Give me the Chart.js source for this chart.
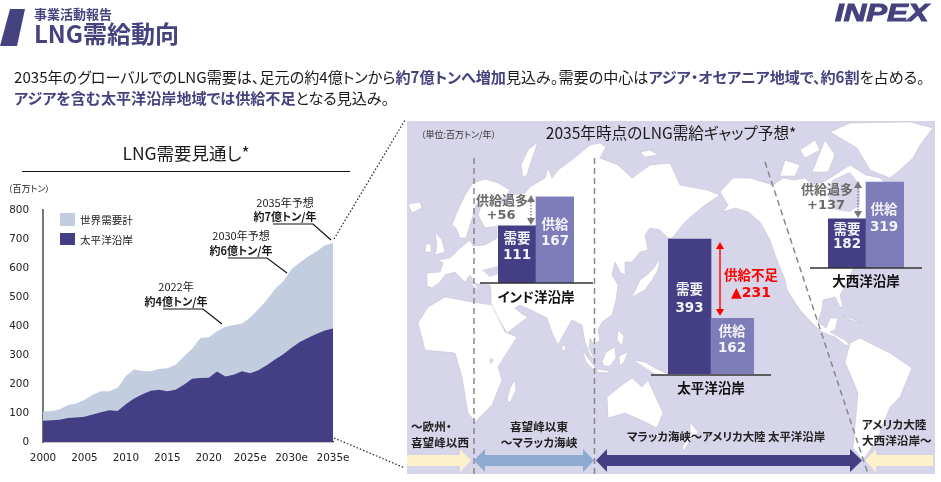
<!DOCTYPE html>
<html lang="ja"><head><meta charset="utf-8">
<script src="https://cdn.jsdelivr.net/npm/chart.js@4"></script>
<style>
html,body{margin:0;padding:0;background:#fff;width:941px;height:482px;overflow:hidden}
body{position:relative;font-family:"DejaVu Sans","Noto Sans CJK JP",sans-serif;color:#1a1a1a}
.t{position:absolute;white-space:nowrap;z-index:5;font-family:"Noto Sans CJK JP",sans-serif;font-feature-settings:"palt"}
.c{text-align:center;transform:translateX(-50%)}
.b{font-weight:700}
.n{font-family:"DejaVu Sans","Noto Sans CJK JP",sans-serif}
.hl{color:#46427f;font-weight:700}
canvas{position:absolute}
svg{position:absolute;left:0;top:0}
.w{color:#f2f2f8;font-weight:700;font-size:13.5px;line-height:15.5px}
.g{color:#6a6a6a;font-weight:700}
.lb{font-weight:700;font-size:13.5px;color:#111}
.ar{font-weight:700;font-size:11.6px;line-height:15.5px;color:#222}
</style></head><body>
<svg width="941" height="482" style="z-index:0">
<polygon points="10,9 25,9 17,46 0,46" fill="#46427f"/>
<rect x="407" y="121" width="528" height="353" fill="#d6d5e9"/>
<g fill="#fff" stroke="#bcbcd0" stroke-width=".5" stroke-linejoin="round">
<polygon points="427,286 427,273 440,272 443,263 438,260 450,258 458,250 464,245 470,240 473,246 485,245 497,238 497,226 485,228 478,215 483,200 476,205 470,225 466,238 460,238 456,228 452,225 457,212 465,195 473,183 485,179 498,183 510,190 505,197 497,200 505,205 513,195 525,193 530,187 545,178 548,168 552,178 558,170 565,165 578,155 590,145 600,143 606,147 600,158 618,165 632,178 650,165 670,163 680,185 707,190 720,195 705,205 693,215 685,222 677,232 672,238 668,238 660,230 650,228 645,235 648,250 640,252 632,262 625,262 625,275 620,272 615,262 612,275 618,285 616,300 612,315 602,322 598,330 600,340 594,345 590,338 589,348 596,362 590,355 585,342 582,325 572,320 565,332 558,345 553,335 547,318 535,312 520,305 515,308 522,314 528,317 507,333 498,318 491,304 491,294 490,285 470,283 480,292 476,285 470,275 465,282 455,272 445,275 440,282 432,288"/>
<polygon points="418,323 428,307 445,297 472,302 492,305 505,332 517,337 498,367 502,380 492,405 475,422 468,413 462,377 455,353 425,350"/>
<polygon points="515,380 516,390 510,403 507,400 510,388"/>
<polygon points="435,232 442,240 445,252 435,255 437,245"/>
<polygon points="426,244 431,244 431,252 425,252"/>
<polygon points="408,204 420,202 422,208 412,213"/>
<polygon points="523,177 521,165 528,150 538,142 535,150 530,165 527,175"/>
<polygon points="640,152 650,150 658,155 645,157"/>
<polygon points="660,258 654,268 648,274 640,280 632,297 645,290 652,280 658,270"/>
<polygon points="618,330 624,336 622,346 617,340"/>
<polygon points="582,350 595,367 595,371 586,362"/>
<polygon points="602,362 606,352 615,347 616,358 610,366 604,366"/>
<polygon points="597,369 610,371 607,373 597,372"/>
<polygon points="619,356 628,352 624,362 620,366"/>
<polygon points="633,360 645,362 655,368 668,374 668,376 655,374 645,368"/>
<polygon points="607,397 622,385 632,378 642,387 648,380 663,413 657,428 645,422 625,413 608,418"/>
<polygon points="655,433 660,433 658,438"/>
<polygon points="690,422 698,432 694,438 690,440 684,451 682,447 690,436"/>
<polygon points="720,192 733,178 750,178 773,185 783,178 795,180 805,178 812,185 823,182 830,178 850,165 866,175 880,178 893,190 900,205 895,215 885,218 880,225 870,235 860,250 855,265 848,280 840,295 843,307 840,307 835,297 823,300 822,310 818,322 826,328 830,318 838,318 835,330 830,332 845,340 850,345 845,345 835,337 822,332 812,323 800,310 787,290 785,280 775,255 770,240 760,222 748,212 735,208 723,212 728,205"/>
<polygon points="857,148 830,132 850,123 910,122 933,128 920,145 913,158 900,170 890,178 870,170"/>
<polygon points="780,176 785,160 800,165 795,176"/>
<polygon points="800,150 815,140 820,150 805,158"/>
<polygon points="812,172 825,140 835,155 828,172"/>
<polygon points="843,316 855,320 862,323 850,320"/>
<polygon points="845,362 850,343 860,338 890,353 912,368 900,397 890,407 877,440 863,460 853,448 858,393"/>
<polygon points="562,345 566,346 565,351 562,350"/>
</g>
<g fill="#d6d5e9">
<polygon points="832,180 850,172 860,185 860,205 850,212 835,210 828,195"/>
<polygon points="482,270 498,266 503,272 490,277"/>
<polygon points="491,358 494,360 491,364 489,361"/>
</g>
<g fill="none" stroke="#888" stroke-width="1.5" stroke-dasharray="6 4">
<path d="M474 158V474"/><path d="M594.5 158V474"/><path d="M765 162L868 474"/>
</g>
<polygon points="407,455 460,455 460,449 471,460.500 460,472 460,466 407,466" fill="#fdf1cc"/>
<polygon points="474,460.500 485,449 485,455 583,455 583,449 594,460.500 583,472 583,466 485,466 485,472" fill="#8eaad0"/>
<polygon points="596,460.500 607,449 607,455 850,455 850,449 862,460.500 850,472 850,466 607,466 607,472" fill="#443f84"/>
<polygon points="865,460.500 876,449 876,455 933,455 933,466 876,466 876,472" fill="#fdf1cc"/>
</svg>

<canvas id="area" width="360" height="272" style="left:0;top:198px;z-index:1"></canvas>
<canvas id="barIndian" width="76" height="100" style="left:498px;top:183px;z-index:1"></canvas>
<canvas id="barPacific" width="86" height="145" style="left:668px;top:229px;z-index:1"></canvas>
<canvas id="barAtlantic" width="76" height="96" style="left:828px;top:172px;z-index:1"></canvas>

<svg width="941" height="482" style="z-index:2">
<path d="M22 171.500H350" stroke="#111" stroke-width="1.2"/>
<g fill="none" stroke="#111" stroke-width="1.2">
<path d="M163 309H203L222 324"/><path d="M228 258H267L287 273"/><path d="M273 224H313L331 240"/>
</g>
<path d="M334 239L405 120M334 438L405 468" stroke="#222" stroke-width="1.2" stroke-dasharray="1.500 2" fill="none"/>
<g stroke="#333" stroke-width="1.4"><path d="M480 283H593"/><path d="M651 375H771"/><path d="M810 268H922"/></g>
<path d="M531 199V221M858 185V214" stroke="#777" stroke-width="1.3" stroke-dasharray="1.500 1.500"/>
<g fill="#777">
<polygon points="531,195 535,202 527,202"/><polygon points="531,225 535,218 527,218"/>
<polygon points="858,181 862,188 854,188"/><polygon points="858,218 862,211 854,211"/>
</g>
<path d="M720 246V312" stroke="#f00" stroke-width="1.4"/>
<polygon points="720,242 724,249 716,249" fill="#f00"/><polygon points="720,316 724,309 716,309" fill="#f00"/>
<rect x="60" y="213" width="15" height="13" fill="#c3cde0"/><rect x="60" y="233" width="15" height="12" fill="#443f84"/>
</svg>

<div class="t b" style="left:34px;top:5px;font-size:13px;line-height:18px;color:#46427f">事業活動報告</div>
<div class="t b" style="left:34px;top:17px;font-size:24px;line-height:32px;color:#46427f">LNG需給動向</div>
<div class="t" style="left:835px;top:-1px;font:italic 900 24px/28px 'Liberation Sans';color:#46427f;-webkit-text-stroke:1px #46427f;transform:scaleX(1.3);transform-origin:left">INPEX</div>
<div class="t" style="left:14px;top:64px;font-size:15.1px;line-height:24px">2035年のグローバルでのLNG需要は、足元の約4億トンから<span class="hl">約7億トンへ増加</span>見込み。需要の中心は<span class="hl">アジア・オセアニア地域で、約6割</span>を占める。</div>
<div class="t" style="left:14px;top:85px;font-size:15.1px;line-height:24px"><span class="hl">アジアを含む太平洋沿岸地域では供給不足</span>となる見込み。</div>

<div class="t c" style="left:186px;top:142px;font-size:17.5px;line-height:22px">LNG需要見通し*</div>
<div class="t" style="left:8px;top:182px;font-size:9px;line-height:14px">（百万トン）</div>
<div class="t" style="left:80px;top:212px;font-size:10.6px;line-height:15px">世界需要計</div>
<div class="t" style="left:80px;top:232px;font-size:10.6px;line-height:15px">太平洋沿岸</div>
<div class="t c" style="left:176px;top:279px;font-size:11px;line-height:14px">2022年</div>
<div class="t c b" style="left:176px;top:294px;font-size:11px;line-height:14px">約4億トン/年</div>
<div class="t c" style="left:241px;top:228px;font-size:11px;line-height:14px">2030年予想</div>
<div class="t c b" style="left:241px;top:243px;font-size:11px;line-height:14px">約6億トン/年</div>
<div class="t c" style="left:285px;top:195px;font-size:11px;line-height:14px">2035年予想</div>
<div class="t c b" style="left:285px;top:209px;font-size:11px;line-height:14px">約7億トン/年</div>

<div class="t c" style="left:671px;top:121px;font-size:15.6px;line-height:22px">2035年時点のLNG需給ギャップ予想*</div>
<div class="t" style="left:421px;top:128px;font-size:9px;line-height:14px;color:#333">（単位:百万トン/年）</div>

<div class="t c g" style="left:502px;top:191px;font-size:13px;line-height:18px">供給過多</div>
<div class="t c g n" style="left:501px;top:206px;font-size:13px;line-height:18px">+56</div>
<div class="t c w" style="left:517px;top:230px">需要<br><span class="n">111</span></div>
<div class="t c w" style="left:555px;top:216px">供給<br><span class="n">167</span></div>
<div class="t c lb" style="left:536px;top:286px">インド洋沿岸</div>

<div class="t c w" style="left:689.500px;top:279px;line-height:18px">需要<br><span class="n">393</span></div>
<div class="t c w" style="left:732px;top:323px">供給<br><span class="n">162</span></div>
<div class="t c lb" style="left:711px;top:377px">太平洋沿岸</div>
<div class="t c b" style="left:751px;top:264px;font-size:13.5px;line-height:20px;color:#f00">供給不足</div>
<div class="t c b n" style="left:751px;top:282px;font-size:14px;line-height:20px;color:#f00">▲231</div>

<div class="t c g" style="left:827px;top:180px;font-size:13px;line-height:18px">供給過多</div>
<div class="t c g n" style="left:826px;top:196px;font-size:13px;line-height:18px">+137</div>
<div class="t c w" style="left:847px;top:221px;line-height:14px">需要<br><span class="n">182</span></div>
<div class="t c w" style="left:884px;top:200px;line-height:17px">供給<br><span class="n">319</span></div>
<div class="t c lb" style="left:866px;top:270px">大西洋沿岸</div>

<div class="t ar" style="left:411px;top:419px">～欧州・<br>喜望峰以西</div>
<div class="t c ar" style="left:539px;top:419px">喜望峰以東<br>～マラッカ海峡</div>
<div class="t c ar" style="left:726px;top:429px;font-size:11.4px">マラッカ海峡～アメリカ大陸 太平洋沿岸</div>
<div class="t ar" style="left:862px;top:417px">アメリカ大陸<br>大西洋沿岸～</div>

<script>
const years = [2000,2001,2002,2003,2004,2005,2006,2007,2008,2009,2010,2011,2012,2013,2014,2015,2016,2017,2018,2019,2020,2021,2022,2023,2024,2025,2026,2027,2028,2029,2030,2031,2032,2033,2034,2035];
const worldDemand = [105,107,112,128,133,145,163,175,175,187,228,250,245,244,252,255,267,295,322,359,362,382,398,404,408,430,458,490,528,555,597,620,640,658,678,687];
const pacificDemand = [73,75,77,83,85,87,95,103,110,107,130,150,165,177,180,175,180,198,218,221,222,243,226,232,244,237,248,265,285,303,325,345,360,373,385,392];
const shownTicks = {2000:"2000",2005:"2005",2010:"2010",2015:"2015",2020:"2020",2025:"2025e",2030:"2030e",2035:"2035e"};
const barCategories = ["需要","供給"];
const indianBars = [111,167];
const pacificBars = [393,162];
const atlanticBars = [182,319];
const seriesNames = ["太平洋沿岸","世界需要計"];

const NAVY="#443f84", LIGHT="#c3cde0", PURPLE="#7f7cba";
const tickFont={family:"'DejaVu Sans'",size:10.4};
new Chart(document.getElementById("area"),{
  type:"line",
  data:{labels:years,datasets:[
    {label:seriesNames[0],data:pacificDemand,borderWidth:0,pointRadius:0,tension:0,fill:"origin",backgroundColor:NAVY},
    {label:seriesNames[1],data:worldDemand,borderWidth:0,pointRadius:0,tension:0,fill:"origin",backgroundColor:LIGHT}
  ]},
  options:{responsive:false,animation:false,
    layout:{padding:{top:7,right:27,left:0,bottom:0}},
    plugins:{legend:{display:false},tooltip:{enabled:false}},
    scales:{
      x:{grid:{display:false},border:{color:"#222",width:1.2},
         afterFit(s){s.height=28;},
         ticks:{autoSkip:false,maxRotation:0,padding:2,color:"#222",font:tickFont,
           callback(v,i){return shownTicks[years[i]]||"";}}},
      y:{min:0,max:800,grid:{display:false},border:{color:"#777",width:2},
         afterFit(s){s.width=43;},
         ticks:{stepSize:100,padding:6,color:"#222",font:tickFont}}
    }}
});
function bars(id,values,maxV){
  new Chart(document.getElementById(id),{
    type:"bar",
    data:{labels:barCategories,datasets:[{data:values,backgroundColor:[NAVY,PURPLE],barPercentage:1,categoryPercentage:1,borderWidth:0}]},
    options:{responsive:false,animation:false,layout:{padding:0},
      plugins:{legend:{display:false},tooltip:{enabled:false}},
      scales:{x:{display:false},y:{display:false,min:0,max:maxV}}}
  });
}
bars("barIndian",indianBars,194);
bars("barPacific",pacificBars,422);
bars("barAtlantic",atlanticBars,356);
</script>
</body></html>
